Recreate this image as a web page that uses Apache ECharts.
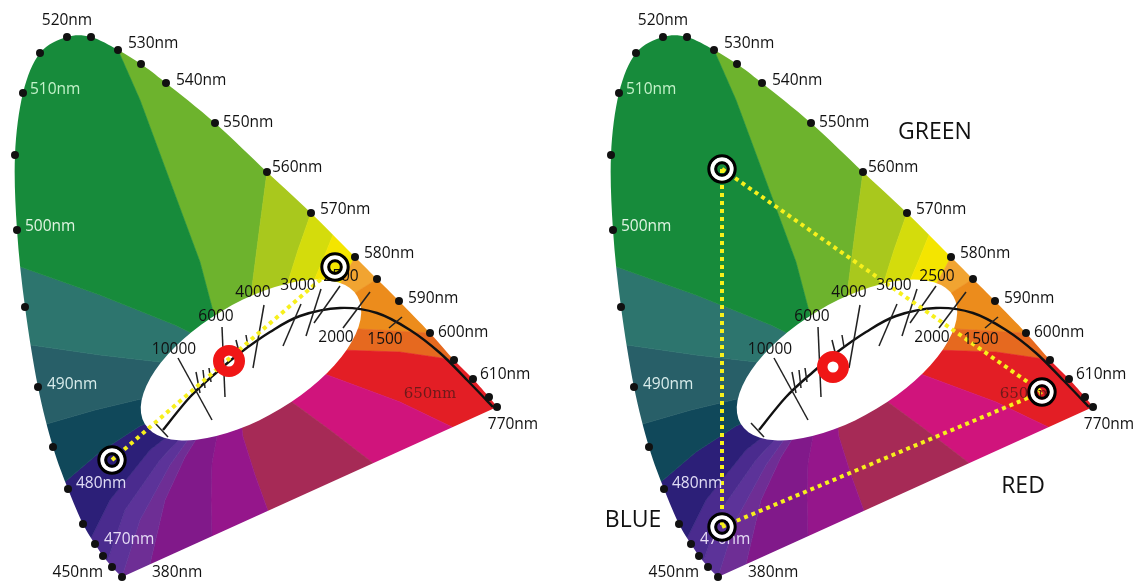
<!DOCTYPE html>
<html>
<head>
<meta charset="utf-8">
<title>CIE chromaticity - colour temperature and gamut</title>
<script src="https://cdn.jsdelivr.net/npm/echarts@6/dist/echarts.min.js"></script>
<style>
html, body { margin: 0; padding: 0; background: #fff; }
#chart { width: 1146px; height: 583px; }
</style>
</head>
<body>
<div id="chart"></div>
<script>
// spectral locus, 380nm -> 770nm (diagram units, both panels share them)
var locus = [
	[122,577],[112,567],[103,556],[95,544],[83,524],[68,489],[53,447],[38,387],
	[25,307],[17,230],[15,155],[23,93],[40,53],[67,37],[91,37],[118,50],
	[141,64],[166,83],[215,123],[267,172],[311,213],[355,257],[377,279],
	[399,301],[430,333],[454,360],[473,379],[489,397],[497,407]
];
// wavelength name -> index in locus
var wlLabels = [
	['380nm',0],['450nm',1],['470nm',3],['480nm',5],['490nm',7],['500nm',9],
	['510nm',11],['520nm',13],['530nm',15],['540nm',17],['550nm',18],['560nm',19],
	['570nm',20],['580nm',21],['590nm',23],['600nm',24],['610nm',26],['770nm',28]
];
var innerLabel = ['650nm', 430, 394];

// borders between hue areas, outer end first, clockwise
var borders = [
	[[118,50],[140,100],[177,200],[200,262],[214,315],[238,352]],
	[[267,172],[260,225],[252,287],[250,350]],
	[[311,213],[298,250],[287,285],[262,350]],
	[[333,235],[322,262],[313,283],[270,350]],
	[[355,257],[337,290],[285,352]],
	[[377,279],[347,298],[295,355]],
	[[430,333],[380,330],[340,328],[300,358]],
	[[455,360],[400,352],[340,350],[305,362]],
	[[452,427],[400,402],[330,376],[300,365]],
	[[373,463],[330,430],[285,397],[262,372]],
	[[268,511],[255,475],[243,437],[238,400]],
	[[212,536],[211,500],[212,463],[220,420]],
	[[150,564],[165,500],[185,457],[205,425]],
	[[122,577],[140,520],[170,465],[195,430]],
	[[107,562],[125,510],[160,460],[190,428]],
	[[91,538],[110,500],[150,450],[182,425]],
	[[66,481],[100,452],[140,426],[172,413]],
	[[50,423],[95,410],[145,398],[182,393]],
	[[31,345],[100,355],[160,362],[200,372]],
	[[21,267],[100,295],[175,325],[222,348]]
];
var hueColors = [
	'#6db32d','#a9c81d','#d4dc0c','#f4e500','#f1a431','#ec8c1c','#e6691f','#e31e25',
	'#d0147c','#a62a56','#95168b','#81198a','#6e2e95','#5c3399','#4a2b8e','#2c1f78',
	'#10485a','#285f68','#2d756e','#178b3b'
];
var hueCenter = [250,360];

// white area round the black body curve
var ellipseCenter = [251,360];
var ellipseAxes = [124,57];
var ellipseTilt = 31;

// black body (Planckian) locus and its isotherms
var planck = [[163,430],[190,397],[217,372],[240,353],[270,332],[300,316],[340,308],
	[377,313],[410,330],[440,353],[467,380],[493,407]];
var isoTicks = [
	[155,423,168,437],[178,358,212,420],[196,372,200,393],[203,370,205,388],[209,368,211,382],
	[222,327,225,397],[236,340,239,352],[246,335,248,347],[264,305,253,368],[301,304,283,346],
	[321,289,306,336],[340,286,314,323],[370,292,343,328],[402,317,389,328]
];
var tempLabels = [['10000',174,350],['6000',216,317],['4000',253,293],['3000',298,286],
	['2500',341,277],['2000',336,338],['1500',385,340]];

// left panel: white point and two mixed lights
var leftWhite = [229,361];
var leftLights = [[112,460],[335,267]];
var leftLinks = [[0,1]];
// right panel: white point and RGB gamut
var rightWhite = [237,367];
var rightLights = [[126,169],[446,392],[126,527]];
var rightLinks = [[0,2],[0,1],[2,1]];
var rightNames = [['GREEN',339,132],['RED',427,486],['BLUE',37,520]];

var labelPlace = {
	'380nm': [30,-4,'left','#111'], '450nm': [-9,6,'right','#111'], '470nm': [9,-4,'left','#e6dcf5'],
	'480nm': [8,-5,'left','#e0dcf5'], '490nm': [9,-2,'left','#d8eceb'], '500nm': [8,-3,'left','#e0f4e2'],
	'510nm': [7,-3,'left','#c4f2ca'], '520nm': [0,-16,'center','#111'], '530nm': [10,-6,'left','#111'],
	'540nm': [10,-2,'left','#111'], '550nm': [8,0,'left','#111'], '560nm': [5,-4,'left','#111'],
	'570nm': [9,-3,'left','#111'], '580nm': [9,-3,'left','#111'], '590nm': [9,-2,'left','#111'],
	'600nm': [8,0,'left','#111'], '610nm': [7,-4,'left','#111'], '770nm': [16,18,'center','#111']
};
var FONT = '"Open Sans", "Noto Sans", sans-serif';

function splinePath(pts) {
	var d = 'M' + pts[0][0] + ',' + pts[0][1];
	for (var i = 0; i < pts.length - 1; i++) {
		var p0 = pts[Math.max(i - 1, 0)], p1 = pts[i], p2 = pts[i + 1], p3 = pts[Math.min(i + 2, pts.length - 1)];
		var c1 = [p1[0] + (p2[0] - p0[0]) / 6, p1[1] + (p2[1] - p0[1]) / 6];
		var c2 = [p2[0] - (p3[0] - p1[0]) / 6, p2[1] - (p3[1] - p1[1]) / 6];
		d += ' C' + c1[0] + ',' + c1[1] + ' ' + c2[0] + ',' + c2[1] + ' ' + p2[0] + ',' + p2[1];
	}
	return d;
}

function lightRing(p, kids) {
	kids.push({type: 'ring', shape: {cx: p[0], cy: p[1], r: 12, r0: 7.5}, style: {fill: '#fff'}});
	kids.push({type: 'circle', shape: {cx: p[0], cy: p[1], r: 13.2}, style: {fill: 'none', stroke: '#000', lineWidth: 3}});
	kids.push({type: 'circle', shape: {cx: p[0], cy: p[1], r: 6.3}, style: {fill: 'none', stroke: '#000', lineWidth: 3}});
}

function drawPanel(marks) {
	return function (params, api) {
		var cs = params.coordSys;
		var P = function (p) { return api.coord(p); };
		var kids = [];
		var c = P(hueCenter);
		var far = function (p) {
			var dx = p[0] - c[0], dy = p[1] - c[1], l = Math.sqrt(dx * dx + dy * dy);
			return [p[0] + dx / l * 150, p[1] + dy / l * 150];
		};
		// hue areas
		borders.forEach(function (b, i) {
			var a = b.map(P), n = borders[(i + 1) % borders.length].map(P);
			var pts = a.concat(n.slice().reverse(), [far(n[0]), far(a[0])]);
			kids.push({type: 'polygon', shape: {points: pts}, style: {fill: hueColors[i], stroke: hueColors[i], lineWidth: 0.6}});
		});
		// white outside the locus
		var x0 = cs.x - 5, y0 = cs.y - 5, x1 = cs.x + cs.width + 5, y1 = cs.y + cs.height + 5;
		var mask = 'M' + x0 + ',' + y0 + ' L' + x0 + ',' + y1 + ' L' + x1 + ',' + y1 + ' L' + x1 + ',' + y0 + ' Z '
			+ splinePath(locus.map(P)) + ' Z';
		kids.push({type: 'path', shape: {pathData: mask}, style: {fill: '#fff'}});
		// white ellipse
		var ec = P(ellipseCenter), t = -ellipseTilt * Math.PI / 180;
		var ra = ellipseAxes[0], rb = ellipseAxes[1];
		var ux = Math.cos(t) * ra, uy = Math.sin(t) * ra;
		var ell = 'M' + (ec[0] - ux) + ',' + (ec[1] - uy)
			+ ' A' + ra + ',' + rb + ' ' + (-ellipseTilt) + ' 0 1 ' + (ec[0] + ux) + ',' + (ec[1] + uy)
			+ ' A' + ra + ',' + rb + ' ' + (-ellipseTilt) + ' 0 1 ' + (ec[0] - ux) + ',' + (ec[1] - uy) + ' Z';
		kids.push({type: 'path', shape: {pathData: ell}, style: {fill: '#fff'}});
		// black body curve and isotherms
		kids.push({type: 'path', shape: {pathData: splinePath(planck.map(P))}, style: {fill: 'none', stroke: '#111', lineWidth: 2.4}});
		isoTicks.forEach(function (s) {
			var a = P([s[0], s[1]]), b = P([s[2], s[3]]);
			kids.push({type: 'line', shape: {x1: a[0], y1: a[1], x2: b[0], y2: b[1]}, style: {stroke: '#222', lineWidth: 1.5}});
		});
		// yellow dotted mixing lines
		marks.links.forEach(function (k) {
			var a = P(marks.lights[k[0]]), b = P(marks.lights[k[1]]);
			kids.push({type: 'line', shape: {x1: a[0], y1: a[1], x2: b[0], y2: b[1]},
				style: {stroke: '#f7f01c', lineWidth: 4, lineDash: [4, 4]}});
		});
		// texts
		tempLabels.forEach(function (l) {
			var p = P([l[1], l[2]]);
			kids.push({type: 'text', x: p[0], y: p[1], style: {text: l[0], fill: '#111', font: '15.5px ' + FONT, align: 'center', verticalAlign: 'middle'}});
		});
		wlLabels.forEach(function (l) {
			var p = P(locus[l[1]]), s = labelPlace[l[0]];
			kids.push({type: 'text', x: p[0] + s[0], y: p[1] + s[1], style: {text: l[0], fill: s[3], font: '15.5px ' + FONT, align: s[2], verticalAlign: 'middle'}});
		});
		var ip = P([innerLabel[1], innerLabel[2]]);
		kids.push({type: 'text', x: ip[0], y: ip[1], style: {text: innerLabel[0], fill: '#6e1a1a', font: '15px "DejaVu Serif", serif', align: 'center', verticalAlign: 'middle'}});
		(marks.names || []).forEach(function (l) {
			var p = P([l[1], l[2]]);
			kids.push({type: 'text', x: p[0], y: p[1], style: {text: l[0], fill: '#111', font: '23px ' + FONT, align: 'center', verticalAlign: 'middle'}});
		});
		// locus dots
		locus.forEach(function (q) {
			var p = P(q);
			kids.push({type: 'circle', shape: {cx: p[0], cy: p[1], r: 4}, style: {fill: '#111'}});
		});
		// white point and lights
		var w = P(marks.white);
		kids.push({type: 'ring', shape: {cx: w[0], cy: w[1], r: 16, r0: 5.5}, style: {fill: '#f01616'}});
		marks.lights.forEach(function (q) { lightRing(P(q), kids); });
		return {type: 'group', children: kids};
	};
}

var chart = echarts.init(document.getElementById('chart'));
var hiddenAxis = function (min, max, inverse) {
	return {type: 'value', min: min, max: max, inverse: !!inverse, show: false};
};
chart.setOption({
	animation: false,
	grid: [
		{left: 0, top: 0, width: 573, height: 583},
		{left: 573, top: 0, width: 573, height: 583}
	],
	xAxis: [hiddenAxis(0, 573), Object.assign(hiddenAxis(-23, 550), {gridIndex: 1})],
	yAxis: [hiddenAxis(0, 583, true), Object.assign(hiddenAxis(0, 583, true), {gridIndex: 1})],
	series: [
		{
			type: 'custom', xAxisIndex: 0, yAxisIndex: 0, clip: true, silent: true,
			data: [[0, 0]],
			renderItem: drawPanel({white: leftWhite, lights: leftLights, links: leftLinks})
		},
		{
			type: 'custom', xAxisIndex: 1, yAxisIndex: 1, clip: true, silent: true,
			data: [[0, 0]],
			renderItem: drawPanel({white: rightWhite, lights: rightLights, links: rightLinks, names: rightNames})
		}
	]
});
</script>
</body>
</html>
